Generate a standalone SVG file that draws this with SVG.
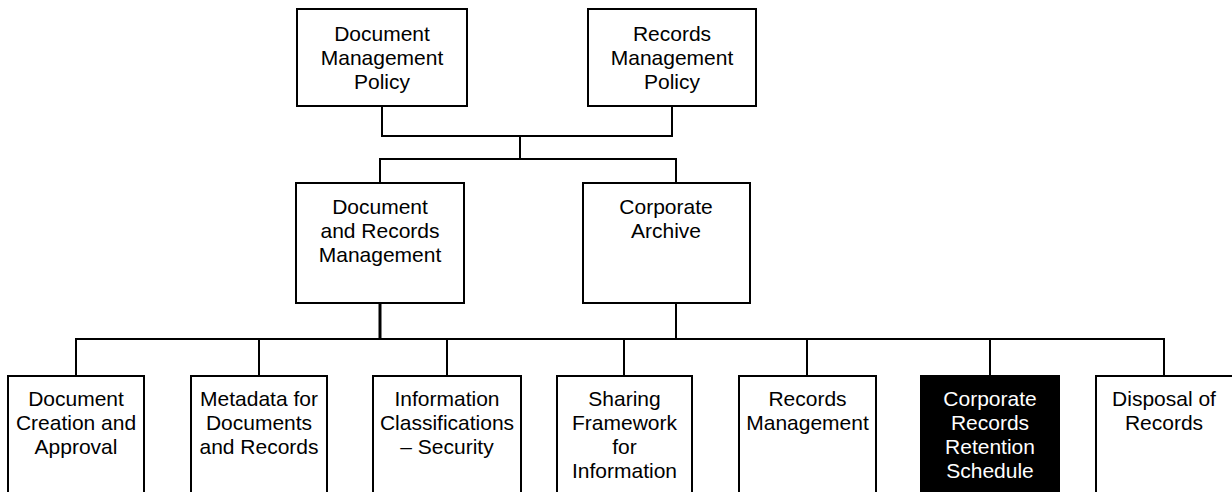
<svg xmlns="http://www.w3.org/2000/svg" width="1232" height="492" viewBox="0 0 1232 492">
<style>
.box{fill:#fff;stroke:#000;stroke-width:2}
.dark{fill:#000;stroke:#000;stroke-width:2}
.t{font-family:"Liberation Sans",Arial,sans-serif;font-size:21px;fill:#000;text-anchor:middle}
.tw{font-family:"Liberation Sans",Arial,sans-serif;font-size:21px;fill:#fff;text-anchor:middle}
.c{fill:none;stroke:#000;stroke-width:2}
</style>
<rect width="1232" height="492" fill="#fff"/>
<g id="connectors">
<path class="c" d="M382,106 V136 H672 V106"/>
<path class="c" d="M520,136 V159"/>
<path class="c" d="M380,183 V159 H676 V183"/>
<path class="c" d="M380,303 V339" style="stroke-width:3"/>
<path class="c" d="M676,303 V339"/>
<path class="c" d="M76,376 V339 H1164 V376"/>
<path class="c" d="M259,339 V376 M447,339 V376 M624,339 V376 M807,339 V376 M990,339 V376"/>
</g>
<g id="doc-mgmt-policy">
<rect class="box" x="297" y="9" width="170" height="97"/>
<text class="t" x="382" y="41">Document</text>
<text class="t" x="382" y="65">Management</text>
<text class="t" x="382" y="89">Policy</text>
</g>
<g id="rec-mgmt-policy">
<rect class="box" x="588" y="9" width="168" height="97"/>
<text class="t" x="672" y="41">Records</text>
<text class="t" x="672" y="65">Management</text>
<text class="t" x="672" y="89">Policy</text>
</g>
<g id="doc-rec-mgmt">
<rect class="box" x="296" y="183" width="168" height="120"/>
<text class="t" x="380" y="214">Document</text>
<text class="t" x="380" y="238">and Records</text>
<text class="t" x="380" y="262">Management</text>
</g>
<g id="corp-archive">
<rect class="box" x="583" y="183" width="167" height="120"/>
<text class="t" x="666" y="214">Corporate</text>
<text class="t" x="666" y="238">Archive</text>
</g>
<g id="doc-creation">
<rect class="box" x="8" y="376" width="136" height="130"/>
<text class="t" x="76" y="406">Document</text>
<text class="t" x="76" y="430">Creation and</text>
<text class="t" x="76" y="454">Approval</text>
</g>
<g id="metadata">
<rect class="box" x="191" y="376" width="136" height="130"/>
<text class="t" x="259" y="406">Metadata for</text>
<text class="t" x="259" y="430">Documents</text>
<text class="t" x="259" y="454">and Records</text>
</g>
<g id="info-class">
<rect class="box" x="373" y="376" width="148" height="130"/>
<text class="t" x="447" y="406">Information</text>
<text class="t" x="447" y="430">Classifications</text>
<text class="t" x="447" y="454">– Security</text>
</g>
<g id="sharing">
<rect class="box" x="557" y="376" width="135" height="130"/>
<text class="t" x="624.5" y="406">Sharing</text>
<text class="t" x="624.5" y="430">Framework</text>
<text class="t" x="624.5" y="454">for</text>
<text class="t" x="624.5" y="478">Information</text>
</g>
<g id="records-mgmt">
<rect class="box" x="739" y="376" width="137" height="130"/>
<text class="t" x="807.5" y="406">Records</text>
<text class="t" x="807.5" y="430">Management</text>
</g>
<g id="retention">
<rect class="dark" x="921" y="376" width="138" height="130"/>
<text class="tw" x="990" y="406">Corporate</text>
<text class="tw" x="990" y="430">Records</text>
<text class="tw" x="990" y="454">Retention</text>
<text class="tw" x="990" y="478">Schedule</text>
</g>
<g id="disposal">
<rect class="box" x="1096" y="376" width="140" height="130"/>
<text class="t" x="1164" y="406">Disposal of</text>
<text class="t" x="1164" y="430">Records</text>
</g>
</svg>
